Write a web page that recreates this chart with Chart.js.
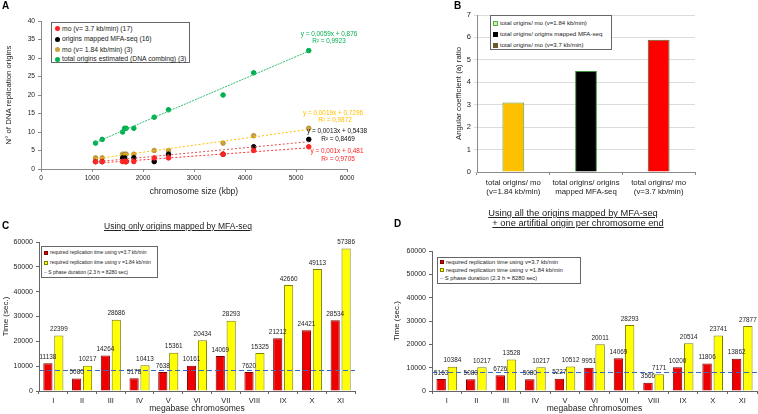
<!DOCTYPE html>
<html><head><meta charset="utf-8">
<script src="https://cdn.jsdelivr.net/npm/chart.js@4.4.0/dist/chart.umd.min.js"></script>
<style>
body{margin:0;width:758px;height:414px;background:#fff;position:relative;overflow:hidden;font-family:"Liberation Sans",Arial,sans-serif;color:#222;}
canvas{position:absolute;}
.t{position:absolute;white-space:nowrap;line-height:1;}
.letter{font-weight:bold;font-size:10px;color:#000;}
.lg{position:absolute;border:1px solid #666;background:#fff;box-sizing:border-box;}
.row{position:absolute;white-space:nowrap;line-height:1;}
.mk{display:inline-block;vertical-align:middle;margin-right:2px;box-sizing:border-box;}
.ttl{position:absolute;white-space:nowrap;text-decoration:underline;transform:translateX(-50%);line-height:1;}
.eq{position:absolute;white-space:nowrap;transform:translate(-50%,-50%);font-size:6.4px;line-height:1;}
</style></head><body>

<canvas id="cA" width="380" height="200" style="left:0;top:0"></canvas>
<canvas id="cB" width="378" height="200" style="left:380px;top:0"></canvas>
<canvas id="cC" width="380" height="214" style="left:0;top:200px"></canvas>
<canvas id="cD" width="378" height="214" style="left:380px;top:200px"></canvas>

<div class="t letter" style="left:2px;top:1px">A</div>
<div class="t letter" style="left:454px;top:1px">B</div>
<div class="t letter" style="left:2px;top:221px">C</div>
<div class="t letter" style="left:394px;top:219px">D</div>

<!-- Panel A legend -->
<div class="lg" style="left:51px;top:22px;width:139px;height:41px;font-size:6.8px">
  <div class="row" style="left:3px;top:2.5px"><span class="mk" style="width:5px;height:5px;border-radius:50%;background:#ff2020"></span>mo (v= 3.7 kb/min) (17)</div>
  <div class="row" style="left:3px;top:13px"><span class="mk" style="width:5px;height:5px;border-radius:50%;background:#000"></span>origins mapped MFA-seq (16)</div>
  <div class="row" style="left:3px;top:23.5px"><span class="mk" style="width:5px;height:5px;border-radius:50%;background:#cda33e"></span>mo (v= 1.84 kb/min) (3)</div>
  <div class="row" style="left:3px;top:33px"><span class="mk" style="width:5px;height:5px;border-radius:50%;background:#00b050"></span>total origins estimated (DNA combing) (3)</div>
</div>

<!-- Panel A equations -->
<div class="eq" style="left:329px;top:34px;color:#00b050">y = 0,0059x + 0,876</div>
<div class="eq" style="left:329px;top:41px;color:#00b050">R² = 0,9923</div>
<div class="eq" style="left:333px;top:113px;color:#ffc000">y = 0,0019x + 0,7296</div>
<div class="eq" style="left:335px;top:120px;color:#ffc000">R² = 0,9872</div>
<div class="eq" style="left:337px;top:131px;color:#111">y = 0,0013x + 0,5438</div>
<div class="eq" style="left:338px;top:139px;color:#111">R² = 0,8469</div>
<div class="eq" style="left:337px;top:151px;color:#ff2020">y = 0,001x + 0,481</div>
<div class="eq" style="left:338px;top:159px;color:#ff2020">R² = 0,9705</div>

<!-- Panel B legend -->
<div class="lg" style="left:490px;top:15px;width:122px;height:35px;font-size:6.1px">
  <div class="row" style="left:2px;top:4px"><span class="mk" style="width:5px;height:5px;border:1px solid #4caf50;background:#d8f0a0"></span>total origins/ mo (v=1.84 kb/min)</div>
  <div class="row" style="left:2px;top:15px"><span class="mk" style="width:5px;height:5px;background:#000"></span>total origins/ origins mapped MFA-seq</div>
  <div class="row" style="left:2px;top:26px"><span class="mk" style="width:5px;height:5px;background:#6b5a2a"></span>total origins/ mo (v=3.7 kb/min)</div>
</div>

<!-- Panel C title + legend -->
<div class="ttl" style="left:178px;top:222px;font-size:8.5px">Using only origins mapped by MFA-seq</div>
<div class="lg" style="left:41px;top:246px;width:117px;height:32px;font-size:5px">
  <div class="row" style="left:2px;top:3px"><span class="mk" style="width:4px;height:4px;background:#e00000;border:1px solid #800000"></span>required replication time using v=3.7 kb/min</div>
  <div class="row" style="left:2px;top:13px"><span class="mk" style="width:4px;height:4px;background:#ffff00;border:1px solid #808000"></span>required replication time using v =1.84 kb/min</div>
  <div class="row" style="left:2px;top:23px"><span style="color:#3a66c4">– </span>S phase duration (2.3 h = 8280 sec)</div>
</div>

<!-- Panel D title + legend -->
<div class="ttl" style="left:573px;top:209px;font-size:9.3px">Using all the origins mapped by MFA-seq</div>
<div class="ttl" style="left:578px;top:219px;font-size:9.3px">+ one artifitial origin per chromosome end</div>
<div class="lg" style="left:437px;top:257px;width:144px;height:27px;font-size:5.8px">
  <div class="row" style="left:2px;top:2px"><span class="mk" style="width:4px;height:4px;background:#e00000;border:1px solid #800000"></span>required replication time using v=3.7 kb/min</div>
  <div class="row" style="left:2px;top:10px"><span class="mk" style="width:4px;height:4px;background:#ffff00;border:1px solid #808000"></span>required replication time using v =1.84 kb/min</div>
  <div class="row" style="left:2px;top:18px"><span style="color:#3a66c4">– </span>S phase duration (2.3 h = 8280 sec)</div>
</div>

<script>
// ---------- Panel A data ----------
const chromSizeKbp   = [1070, 1200, 1600, 1640, 1670, 1820, 2220, 2500, 3570, 4170, 5250];
const originsMo37    = [2, 2, 2, 2, 2, 2, 3, 3, 4, 5, 6];
const originsMFAseq  = [2, 2, 3, 3, 2, 3, 2, 4, 4, 6, 8];
const originsMo184   = [3, 3, 4, 4, 4, 4, 5, 5, 7, 9, 11];
const originsTotal   = [7, 8, 10, 11, 11, 11, 14, 16, 20, 26, 32];
// displayed linear-fit coefficients (red, black, gold, green)
const fitSlopes      = [0.001, 0.0013, 0.0019, 0.0059];
const fitIntercepts  = [0.481, 0.5438, 0.7296, 0.876];

// ---------- Panel B data ----------
const ratioLabels = [["total origins/ mo","(v=1.84 kb/min)"],["total origins/ origins","mapped MFA-seq"],["total origins/ mo","(v=3.7 kb/min)"]];
const ratioValues = [3.1, 4.5, 5.9];

// ---------- Panels C, D data ----------
const chromosomes = ["I","II","III","IV","V","VI","VII","VIII","IX","X","XI"];
const timeC_v37  = [11138, 5080, 14264, 5178, 7638, 10161, 14069, 7620, 21212, 24421, 28534];
const timeC_v184 = [22399, 10217, 28686, 10413, 15361, 20434, 28293, 15325, 42660, 49113, 57386];
const timeD_v37  = [5163, 5080, 6726, 5080, 5227, 9951, 14069, 3566, 10200, 11806, 13862];
const timeD_v184 = [10384, 10217, 13528, 10217, 10512, 20011, 28293, 7171, 20514, 23741, 27877];
const sPhaseSec  = 8280;

const FONT = "'Liberation Sans', Arial, sans-serif";
Chart.defaults.font.family = FONT;
Chart.defaults.color = '#222';
Chart.defaults.animation = false;
Chart.defaults.responsive = false;

const plain = v => String(v);
const pts = ys => ys.map((y, i) => ({x: chromSizeKbp[i], y}));
const xMin = Math.min(...chromSizeKbp), xMax = Math.max(...chromSizeKbp);
const fitLine = k => [{x: xMin, y: fitSlopes[k]*xMin + fitIntercepts[k]}, {x: xMax, y: fitSlopes[k]*xMax + fitIntercepts[k]}];

const axisGrey = '#8a8a8a';

// ---------- Chart A ----------
new Chart(document.getElementById('cA'), {
  type: 'scatter',
  data: { datasets: [
    {type:'line', data: fitLine(0), borderColor:'#ff3030', borderWidth:1, borderDash:[2,2], pointRadius:0, showLine:true},
    {type:'line', data: fitLine(1), borderColor:'#e05050', borderWidth:1, borderDash:[2,2], pointRadius:0, showLine:true},
    {type:'line', data: fitLine(2), borderColor:'#ffc000', borderWidth:1, borderDash:[2,2], pointRadius:0, showLine:true},
    {type:'line', data: fitLine(3), borderColor:'#2fbf6f', borderWidth:1, borderDash:[2,1], pointRadius:0, showLine:true},
    {data: pts(originsMo37),   backgroundColor:'#ff2020', borderColor:'#ff2020', pointRadius:2.3},
    {data: pts(originsMFAseq), backgroundColor:'#000',    borderColor:'#000',    pointRadius:2.3},
    {data: pts(originsMo184),  backgroundColor:'#cda33e', borderColor:'#a88424', pointRadius:2.3, borderWidth:0.8},
    {data: pts(originsTotal),  backgroundColor:'#00b050', borderColor:'#00b050', pointRadius:2.3}
  ]},
  options: {
    plugins:{legend:{display:false}, tooltip:{enabled:false}},
    layout:{padding:{top:21, right:33, bottom:0, left:0}},
    scales:{
      x:{type:'linear', min:0, max:6000,
         ticks:{stepSize:1000, font:{size:6.6}, padding:2, maxRotation:0, callback:plain},
         grid:{drawOnChartArea:false, tickLength:3, color:axisGrey},
         border:{color:axisGrey},
         title:{display:true, text:'chromosome size (kbp)', font:{size:8.5}, padding:{top:0,bottom:3}},
         afterFit: s => { s.height = 31; }},
      y:{min:0, max:40,
         ticks:{stepSize:5, font:{size:6.6}, padding:3, callback:plain},
         grid:{drawOnChartArea:false, tickLength:3, color:axisGrey},
         border:{color:axisGrey},
         title:{display:true, text:'N° of DNA replication origins', font:{size:7.8}, padding:{top:4,bottom:0}},
         afterFit: s => { s.width = 41; }}
    }
  }
});

// ---------- Chart B ----------
new Chart(document.getElementById('cB'), {
  type: 'bar',
  data: { labels: ratioLabels, datasets: [{
    data: ratioValues,
    backgroundColor: ['#ffc000', '#000000', '#ff0000'],
    borderColor: ['#5aa040', '#3f8f3a', '#4a6a2a'],
    borderWidth: 1,
    barPercentage: 0.3, categoryPercentage: 1
  }]},
  options: {
    plugins:{legend:{display:false}, tooltip:{enabled:false}},
    layout:{padding:{top:15, right:63, bottom:0, left:70}},
    scales:{
      x:{ticks:{font:{size:7.8}, padding:3, maxRotation:0},
         grid:{drawOnChartArea:false, tickLength:3, color:axisGrey, offset:true},
         border:{color:axisGrey},
         afterFit: s => { s.height = 28; }},
      y:{min:0, max:7,
         ticks:{stepSize:1, font:{size:7.5}, padding:3, callback:plain},
         grid:{color:'#dcdcdc', tickLength:3},
         border:{color:axisGrey},
         title:{display:true, text:'Angular coefficient (a) ratio', font:{size:7.8}, padding:{top:4,bottom:0}},
         afterFit: s => { s.width = 27; }}
    }
  }
});

// ---------- Plugins for C / D ----------
const valueLabels = {
  id:'valueLabels',
  afterDatasetsDraw(chart) {
    const ctx = chart.ctx;
    ctx.save();
    ctx.font = "6.4px " + FONT;
    ctx.fillStyle = '#222';
    ctx.textAlign = 'center';
    ctx.textBaseline = 'bottom';
    chart.data.datasets.forEach((ds, di) => {
      const meta = chart.getDatasetMeta(di);
      meta.data.forEach((el, i) => {
        ctx.fillText(String(ds.data[i]), el.x, el.y - 3);
      });
    });
    ctx.restore();
  }
};
// S-phase duration reference line, placed through the y scale
const sPhaseLine = {
  id:'sPhaseLine',
  afterDatasetsDraw(chart) {
    const {ctx, chartArea} = chart;
    const y = chart.scales.y.getPixelForValue(sPhaseSec);
    ctx.save();
    ctx.strokeStyle = '#3a66c4';
    ctx.lineWidth = 1;
    ctx.setLineDash([5, 3]);
    ctx.beginPath();
    ctx.moveTo(chartArea.left, Math.round(y) + 0.5);
    ctx.lineTo(chartArea.right, Math.round(y) + 0.5);
    ctx.stroke();
    ctx.restore();
  }
};

function timeChart(id, red, yellow, pad, yW) {
  return new Chart(document.getElementById(id), {
    type: 'bar',
    data: { labels: chromosomes, datasets: [
      {data: red, backgroundColor:'#ee0000', borderColor:'#7a0000', borderWidth:1},
      {data: yellow, backgroundColor:'#ffff00', borderColor:'#7f7f00', borderWidth:1}
    ]},
    options: {
      categoryPercentage: 0.76, barPercentage: 0.84,
      plugins:{legend:{display:false}, tooltip:{enabled:false}},
      layout:{padding:pad},
      scales:{
        x:{ticks:{font:{size:7.5}, padding:2, maxRotation:0},
           grid:{drawOnChartArea:false, tickLength:3, color:'#666', offset:true},
           border:{color:'#666'},
           title:{display:true, text:'megabase chromosomes', font:{size:8.5}, padding:{top:0,bottom:0}},
           afterFit: s => { s.height = 23; }},
        y:{min:0, max:60000,
           ticks:{stepSize:10000, font:{size:7}, padding:3, callback:plain},
           grid:{drawOnChartArea:false, tickLength:3, color:'#666'},
           border:{color:'#666'},
           title:{display:true, text:'Time (sec.)', font:{size:8}, padding:{top:1,bottom:0}},
           afterFit: s => { s.width = yW; }}
      }
    },
    plugins:[sPhaseLine, valueLabels]
  });
}

timeChart('cC', timeC_v37, timeC_v184, {top:42, right:25, bottom:0, left:0}, 39);
timeChart('cD', timeD_v37, timeD_v184, {top:51, right:1, bottom:0, left:11}, 41);
</script>
</body></html>
